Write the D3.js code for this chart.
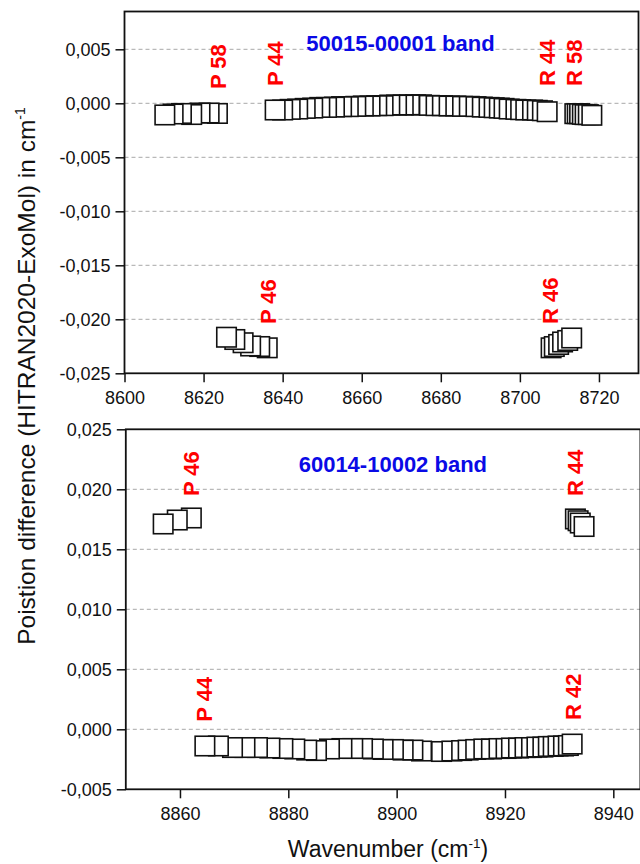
<!DOCTYPE html>
<html><head><meta charset="utf-8">
<script src="https://cdn.jsdelivr.net/npm/d3@7"></script>
<style>body{margin:0;background:#fff}svg{display:block}</style>
</head><body><svg id="c" width="640" height="864"></svg>
<script>
// ---------------- DATA ----------------
const topXTicks = [8600, 8620, 8640, 8660, 8680, 8700, 8720];
const topYTicks = [-0.025, -0.02, -0.015, -0.01, -0.005, 0, 0.005];
const topGrid = [-0.02, -0.015, -0.01, -0.005, 0, 0.005];
const botXTicks = [8860, 8880, 8900, 8920, 8940];
const botYTicks = [-0.005, 0, 0.005, 0.01, 0.015, 0.02, 0.025];
const botGrid = [0, 0.005, 0.01, 0.015, 0.02];

// 50015-00001 band
const topPfarX = [8610.2, 8612.3, 8614.4, 8617.0, 8619.1, 8621.4, 8623.5];
const topPfarY = [-0.00108, -0.00099, -0.00094, -0.00104, -0.00090, -0.00090, -0.00094];
const topPmainX = [8638.1, 8640.0, 8641.9, 8643.8, 8645.7, 8647.6, 8649.4, 8651.1, 8653.1, 8654.9, 8656.6, 8658.5, 8660.4, 8662.1, 8663.8, 8665.4, 8667.1, 8668.8, 8670.5, 8672.1, 8673.6, 8675.1];
const topPmainY = [-0.00062, -0.00062, -0.00056, -0.00053, -0.00047, -0.00044, -0.00038, -0.00038, -0.00035, -0.00031, -0.00031, -0.00028, -0.00025, -0.00025, -0.00022, -0.00022, -0.00016, -0.00016, -0.00016, -0.00015, -0.00014, -0.00014];
const topRmainX = [8677.1, 8678.8, 8680.4, 8682.1, 8683.8, 8685.5, 8687.2, 8688.9, 8690.5, 8692.2, 8693.5, 8694.8, 8696.0, 8697.3, 8699.0, 8700.2, 8701.5, 8703.2, 8704.4, 8705.7, 8706.9];
const topRmainY = [-0.00019, -0.00022, -0.00022, -0.00025, -0.00025, -0.00028, -0.00028, -0.00031, -0.00035, -0.00038, -0.00041, -0.00044, -0.00047, -0.00053, -0.00056, -0.00059, -0.00062, -0.00062, -0.00065, -0.00069, -0.00078];
const topRfarX = [8713.9, 8714.5, 8715.1, 8715.8, 8716.5, 8717.3, 8718.2];
const topRfarY = [-0.00096, -0.00096, -0.00096, -0.00102, -0.00105, -0.00105, -0.00111];
const topPoutX = [8625.8, 8627.9, 8630.0, 8631.9, 8634.2, 8636.1];
const topPoutY = [-0.02166, -0.02187, -0.02217, -0.02247, -0.02252, -0.02264];
const topRoutX = [8707.9, 8708.7, 8709.8, 8710.8, 8712.1, 8713.1];
const topRoutY = [-0.02264, -0.02252, -0.02233, -0.02210, -0.02196, -0.02173];

// 60014-10002 band
const botPoutX = [8856.9, 8859.5, 8862.1];
const botPoutY = [0.01711, 0.01744, 0.01761];
const botRoutX = [8933.0, 8933.5, 8933.9, 8934.6];
const botRoutY = [0.01753, 0.01738, 0.01719, 0.01690];
const botPmainX = [8864.6, 8867.1, 8869.7, 8872.0, 8874.3, 8876.6, 8879.0, 8881.2, 8883.4, 8885.2, 8887.6, 8889.9, 8891.9, 8893.7, 8895.7, 8897.5, 8899.4, 8901.2, 8903.0, 8904.6];
const botPmainY = [-0.00139, -0.00139, -0.00152, -0.00152, -0.00152, -0.00156, -0.00160, -0.00164, -0.00173, -0.00177, -0.00164, -0.00160, -0.00160, -0.00160, -0.00164, -0.00168, -0.00168, -0.00173, -0.00173, -0.00181];
const botRmainX = [8908.3, 8910.2, 8912.0, 8913.2, 8914.6, 8916.1, 8917.5, 8918.9, 8920.2, 8921.2, 8922.5, 8923.7, 8924.9, 8925.9, 8927.0, 8928.0, 8928.9, 8929.8, 8930.8, 8931.7, 8932.4];
const botRmainY = [-0.00185, -0.00181, -0.00177, -0.00173, -0.00168, -0.00164, -0.00164, -0.00160, -0.00160, -0.00156, -0.00156, -0.00152, -0.00152, -0.00148, -0.00148, -0.00143, -0.00143, -0.00139, -0.00139, -0.00135, -0.00123];

// annotations (data coordinates)
const topLabelText = ["P 58", "P 44", "R 44", "R 58", "P 46", "R 46"];
const topLabelX = [8625.6, 8640.0, 8709.0, 8715.8, 8638.3, 8709.7];
const topLabelY = [0.00132, 0.0016, 0.0016, 0.0016, -0.02044, -0.02044];
const botLabelText = ["P 46", "R 44", "P 44", "R 42"];
const botLabelX = [8863.5, 8934.4, 8866.0, 8934.0];
const botLabelY = [0.01944, 0.01944, 0.00063, 0.00078];
const topTitle = "50015-00001 band", topTitleX = 8669.8, topTitleY = 0.00487;
const botTitle = "60014-10002 band", botTitleX = 8899.3, botTitleY = 0.02147;

// ---------------- DRAW ----------------
const FONT = "'Liberation Sans', Arial, Helvetica, sans-serif";
const svg = d3.select("#c");
const fmt = d => (d < 0 ? "-" : "") + Math.abs(d).toFixed(3).replace(".", ",");
const SQ = 19.5;

function panel(cfg) {
  const x = d3.scaleLinear().domain(cfg.xd).range(cfg.xr);
  const y = d3.scaleLinear().domain(cfg.yd).range(cfg.yr);
  const g = svg.append("g");
  const [x0, x1] = cfg.xr, [y1, y0] = cfg.yr;

  // grid
  g.selectAll(".grid").data(cfg.grid).join("line")
    .attr("x1", x0).attr("x2", x1)
    .attr("y1", d => y(d)).attr("y2", d => y(d))
    .attr("stroke", "#a8a8a8").attr("stroke-width", 1).attr("stroke-dasharray", "4,3");

  // axes
  const ax = g.append("g").attr("transform", `translate(0,${y1})`)
    .call(d3.axisBottom(x).tickValues(cfg.xt).tickFormat(d3.format("d")).tickSize(9).tickSizeOuter(0).tickPadding(5));
  const ay = g.append("g").attr("transform", `translate(${x0},0)`)
    .call(d3.axisLeft(y).tickValues(cfg.yt).tickFormat(fmt).tickSize(9).tickSizeOuter(0).tickPadding(5));
  [ax, ay].forEach(a => {
    a.select(".domain").remove();
    a.selectAll("line").attr("stroke", "#111").attr("stroke-width", 1.5);
    a.selectAll("text").attr("font-family", FONT).attr("font-size", 18).attr("fill", "#111");
  });
  ax.selectAll("text").attr("dy", "0.95em");

  // frame
  g.append("rect").attr("x", x0).attr("y", y0).attr("width", x1 - x0).attr("height", y1 - y0)
    .attr("fill", "none").attr("stroke", "#111").attr("stroke-width", 1.8);

  // squares
  cfg.groups.forEach(gr => {
    let pts = gr.xs.map((v, i) => [v, gr.ys[i]]);
    if (gr.rev) pts = pts.slice().reverse();
    g.append("g").selectAll("rect").data(pts).join("rect")
      .attr("x", d => x(d[0]) - SQ / 2).attr("y", d => y(d[1]) - SQ / 2)
      .attr("width", SQ).attr("height", SQ)
      .attr("fill", "#fff").attr("stroke", "#111").attr("stroke-width", 1.6);
  });

  // labels
  cfg.labels.t.forEach((t, i) => {
    g.append("text").attr("transform", `translate(${x(cfg.labels.x[i])},${y(cfg.labels.y[i])}) rotate(-90)`)
      .attr("font-family", FONT).attr("font-size", 22).attr("font-weight", "bold")
      .attr("fill", "#ff0000").text(t);
  });
  g.append("text").attr("x", x(cfg.title[1])).attr("y", y(cfg.title[2]))
    .attr("text-anchor", "middle").attr("font-family", FONT).attr("font-size", 22)
    .attr("font-weight", "bold").attr("fill", "#0a0ae6").text(cfg.title[0]);
}

panel({
  xd: [8600, 8730], xr: [124.5, 638.5],
  yd: [-0.025, 0.0085], yr: [373.3, 11.5],
  xt: topXTicks, yt: topYTicks, grid: topGrid,
  groups: [
    { xs: topPfarX, ys: topPfarY, rev: true },
    { xs: topPmainX, ys: topPmainY, rev: true },
    { xs: topRmainX, ys: topRmainY, rev: false },
    { xs: topRfarX, ys: topRfarY, rev: false },
    { xs: topPoutX, ys: topPoutY, rev: true },
    { xs: topRoutX, ys: topRoutY, rev: false }
  ],
  labels: { t: topLabelText, x: topLabelX, y: topLabelY },
  title: [topTitle, topTitleX, topTitleY]
});

panel({
  xd: [8850, 8945], xr: [125.8, 640.4],
  yd: [-0.005, 0.025], yr: [789.3, 429.3],
  xt: botXTicks, yt: botYTicks, grid: botGrid,
  groups: [
    { xs: botPoutX, ys: botPoutY, rev: true },
    { xs: botRoutX, ys: botRoutY, rev: false },
    { xs: botPmainX, ys: botPmainY, rev: true },
    { xs: botRmainX, ys: botRmainY, rev: false }
  ],
  labels: { t: botLabelText, x: botLabelX, y: botLabelY },
  title: [botTitle, botTitleX, botTitleY]
});

// axis titles
const xt = svg.append("text").attr("x", 388).attr("y", 857).attr("text-anchor", "middle")
  .attr("font-family", FONT).attr("font-size", 23).attr("fill", "#111");
xt.append("tspan").text("Wavenumber (cm");
xt.append("tspan").attr("font-size", 13.5).attr("dy", -9.5).text("-1");
xt.append("tspan").attr("dy", 9.5).text(")");

const yt = svg.append("text").attr("transform", "translate(35,376) rotate(-90)").attr("text-anchor", "middle")
  .attr("font-family", FONT).attr("font-size", 24.5).attr("fill", "#111");
yt.append("tspan").text("Poistion difference (HITRAN2020-ExoMol) in cm");
yt.append("tspan").attr("font-size", 14).attr("dy", -10).text("-1");
</script></body></html>
